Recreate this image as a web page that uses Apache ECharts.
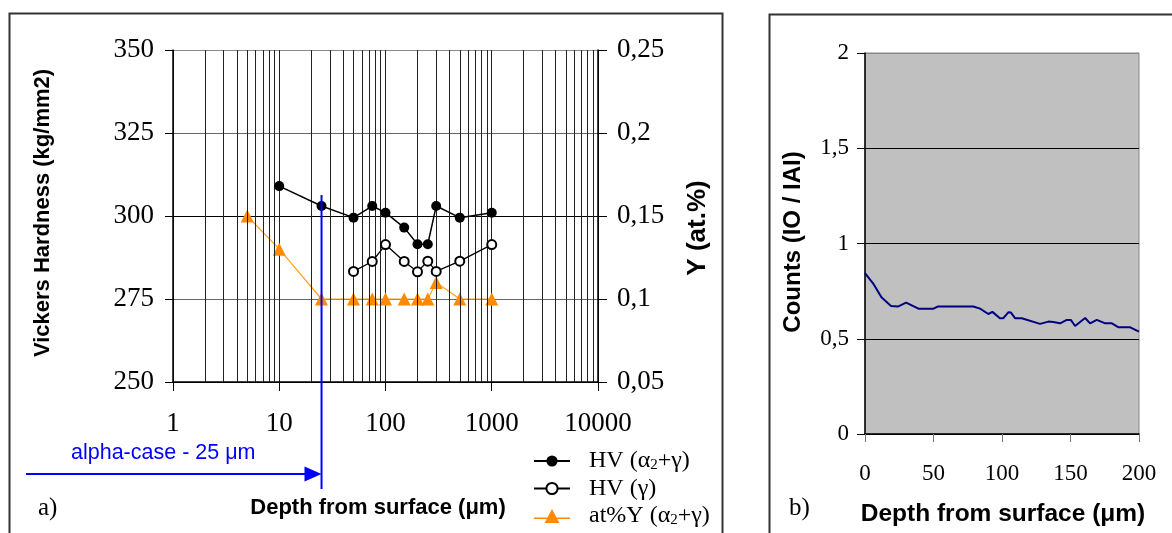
<!DOCTYPE html>
<html><head><meta charset="utf-8">
<script src="https://cdn.jsdelivr.net/npm/echarts@6/dist/echarts.min.js"></script>
<style>html,body{margin:0;padding:0;background:#fff}#c{width:1172px;height:533px}</style>
</head><body><div id="c"></div>
<script>
// ---- Chart a) data ----
const depthHVag = [10, 25, 50, 75, 100, 150, 200, 250, 300, 500, 1000];
const hvAlphaGamma = [309, 303, 299.5, 303, 301, 296.5, 291.5, 291.5, 303, 299.5, 301];
const depthHVg = [50, 75, 100, 150, 200, 250, 300, 500, 1000];
const hvGamma = [283.3, 286.3, 291.4, 286.3, 283.2, 286.4, 283.3, 286.4, 291.4];
const depthY = [5, 10, 25, 50, 75, 100, 150, 200, 250, 300, 500, 1000];
const atY = [0.15, 0.13, 0.1, 0.1, 0.1, 0.1, 0.1, 0.1, 0.1, 0.11, 0.1, 0.1];
const logMinorGrid = [2,3,4,5,6,7,8,9,20,30,40,50,60,70,80,90,200,300,400,500,600,700,800,900,2000,3000,4000,5000,6000,7000,8000,9000];
const alphaCaseDepth = 25;
const seriesNames = ['HV (α2+γ)', 'HV (γ)', 'at%Y (α2+γ)'];
// ---- Chart b) data ----
const depthB = [0,6,12,19,24,30,39,50,53,79,84,90,93,98.5,101,104.6,106.4,109.5,114.4,127.8,133.9,137.5,142.4,147.3,150.2,153.4,157,160.7,164.3,169.2,175.3,180.2,185.1,193.6,200];
const countsB = [0.844,0.79,0.718,0.672,0.669,0.69,0.658,0.658,0.669,0.669,0.658,0.63,0.641,0.608,0.608,0.639,0.638,0.608,0.608,0.578,0.59,0.588,0.581,0.599,0.599,0.567,0.588,0.609,0.581,0.599,0.581,0.581,0.56,0.56,0.537];

const serif = 'Liberation Serif';
const sans = 'Liberation Sans';
const zip = (a, b) => a.map((v, i) => [v, b[i]]);
const comma = v => String(+(+v).toFixed(2)).replace('.', ',');

const chart = echarts.init(document.getElementById('c'), null, {renderer: 'canvas'});

const legendRich = {
  t: {fontFamily: serif, fontSize: 24, color: '#000', lineHeight: 24, verticalAlign: 'middle'},
  s: {fontFamily: serif, fontSize: 15, color: '#000', lineHeight: 24, verticalAlign: 'bottom'}
};
function legendFmt(name) {
  if (name === seriesNames[0]) return '{t|HV (α}{s|2}{t|+γ)}';
  if (name === seriesNames[1]) return '{t|HV (γ)}';
  return '{t|at%Y (α}{s|2}{t|+γ)}';
}
// legend icon for the triangle series: line + large triangle (36 x 14 box)
const triLegendIcon = 'path://M0,8.6L36,8.6L36,10L0,10Z M10.5,14L18,0L25.5,14Z';

const option = {
  animation: false,
  backgroundColor: '#fff',
  grid: [
    {left: 173, top: 50, width: 425, height: 332, show: false},
    {left: 865, top: 53, width: 274, height: 381, show: true, backgroundColor: '#c0c0c0', borderColor: '#888', borderWidth: 1}
  ],
  xAxis: [
    {type: 'log', logBase: 10, min: 1, max: 10000, gridIndex: 0,
     axisLine: {lineStyle: {color: '#000', width: 1.5}},
     axisTick: {length: 9, lineStyle: {color: '#000'}},
     axisLabel: {fontFamily: serif, fontSize: 27, color: '#000', margin: 28, formatter: v => String(Math.round(v))},
     splitLine: {show: true, lineStyle: {color: '#222', width: 1}},
     minorTick: {show: false}},
    {type: 'value', min: 0, max: 200, interval: 50, gridIndex: 1,
     axisLine: {onZero: false, lineStyle: {color: '#000', width: 1.5}},
     axisTick: {length: 8, lineStyle: {color: '#777'}},
     axisLabel: {fontFamily: serif, fontSize: 23, color: '#000', margin: 28},
     splitLine: {show: false}}
  ],
  yAxis: [
    {type: 'value', min: 250, max: 350, interval: 25, gridIndex: 0,
     axisLine: {show: true, lineStyle: {color: '#000', width: 1.5}},
     axisTick: {show: true, length: 8, lineStyle: {color: '#000'}},
     axisLabel: {fontFamily: serif, fontSize: 27, color: '#000', margin: 19},
     splitLine: {show: true, lineStyle: {color: ['#000', '#666', '#000', '#666', '#888'], width: 1}}},
    {type: 'value', min: 0.05, max: 0.25, interval: 0.05, gridIndex: 0, position: 'right',
     axisLine: {show: true, lineStyle: {color: '#000', width: 1.5}},
     axisTick: {show: true, length: 9, lineStyle: {color: '#000'}},
     axisLabel: {fontFamily: serif, fontSize: 27, color: '#000', margin: 19, formatter: comma},
     splitLine: {show: false}},
    {type: 'value', min: 0, max: 2, interval: 0.5, gridIndex: 1,
     axisLine: {show: true, lineStyle: {color: '#000', width: 1.5}},
     axisTick: {show: true, length: 8, lineStyle: {color: '#000'}},
     axisLabel: {fontFamily: serif, fontSize: 23, color: '#000', margin: 16, formatter: comma},
     splitLine: {show: true, lineStyle: {color: ['#000', '#000', '#000', '#000', '#888'], width: 1}}}
  ],
  legend: {
    orient: 'vertical', left: 533, top: 449, width: 190, height: 110, padding: 0,
    itemWidth: 36, itemHeight: 14, itemGap: 3.5,
    data: [{name: seriesNames[0]}, {name: seriesNames[1]}, {name: seriesNames[2], icon: triLegendIcon}],
    formatter: legendFmt,
    textStyle: {rich: legendRich, padding: [0, 0, 0, 14]},
    selectedMode: false
  },
  series: [
    {name: 'grid', type: 'line', xAxisIndex: 0, yAxisIndex: 0, data: [[1, 250]], showSymbol: false, silent: true,
     lineStyle: {opacity: 0}, z: 1,
     markLine: {silent: true, symbol: ['none', 'none'], label: {show: false},
       lineStyle: {color: '#222', width: 1, type: 'solid'},
       data: logMinorGrid.map(v => ({xAxis: v}))}},
    {name: seriesNames[0], type: 'line', xAxisIndex: 0, yAxisIndex: 0, data: zip(depthHVag, hvAlphaGamma),
     symbol: 'circle', symbolSize: 10, itemStyle: {color: '#000'}, lineStyle: {color: '#000', width: 1.5}, z: 5},
    {name: seriesNames[1], type: 'line', xAxisIndex: 0, yAxisIndex: 0, data: zip(depthHVg, hvGamma),
     symbol: 'emptyCircle', symbolSize: 9, itemStyle: {color: '#000', borderWidth: 1.3}, lineStyle: {color: '#000', width: 1.3}, z: 5},
    {name: seriesNames[2], type: 'line', xAxisIndex: 0, yAxisIndex: 1, data: zip(depthY, atY),
     symbol: 'triangle', symbolSize: 13, itemStyle: {color: '#ff8a00'}, lineStyle: {color: '#ffa31a', width: 1.2}, z: 4},
    {name: 'counts', type: 'line', xAxisIndex: 1, yAxisIndex: 2, data: zip(depthB, countsB),
     showSymbol: false, lineStyle: {color: '#000080', width: 2}, clip: false, z: 5}
  ]
};
chart.setOption(option);

const xa = chart.convertToPixel({xAxisIndex: 0}, alphaCaseDepth);
chart.setOption({
  graphic: [
    {type: 'rect', shape: {x: 9.5, y: 13.5, width: 713, height: 560}, style: {fill: 'none', stroke: '#333', lineWidth: 2}, silent: true},
    {type: 'rect', shape: {x: 769.5, y: 14.5, width: 440, height: 560}, style: {fill: 'none', stroke: '#333', lineWidth: 2}, silent: true},
    {type: 'line', shape: {x1: xa, y1: 195, x2: xa, y2: 489}, style: {stroke: '#0000ff', lineWidth: 2}, z: 10},
    {type: 'line', shape: {x1: 26, y1: 474, x2: xa - 14, y2: 474}, style: {stroke: '#0000ff', lineWidth: 2}, z: 10},
    {type: 'polygon', shape: {points: [[xa - 17, 466.5], [xa, 474], [xa - 17, 481.5]]}, style: {fill: '#0000ff'}, z: 10},
    {type: 'text', x: 71, y: 453, style: {text: 'alpha-case - 25 μm', fontFamily: sans, fontSize: 21.5, fill: '#0000ff', verticalAlign: 'middle'}},
    {type: 'text', x: 38, y: 508, style: {text: 'a)', fontFamily: serif, fontSize: 25, fill: '#000', verticalAlign: 'middle'}},
    {type: 'text', x: 789, y: 508, style: {text: 'b)', fontFamily: serif, fontSize: 25, fill: '#000', verticalAlign: 'middle'}},
    {type: 'text', x: 378, y: 508, style: {text: 'Depth from surface (μm)', fontFamily: sans, fontWeight: 'bold', fontSize: 22, fill: '#000', align: 'center', verticalAlign: 'middle'}},
    {type: 'text', x: 1003, y: 514, style: {text: 'Depth from surface (μm)', fontFamily: sans, fontWeight: 'bold', fontSize: 24.5, fill: '#000', align: 'center', verticalAlign: 'middle'}},
    {type: 'text', x: 43, y: 213, rotation: Math.PI / 2, style: {text: 'Vickers Hardness (kg/mm2)', fontFamily: sans, fontWeight: 'bold', fontSize: 22, fill: '#000', align: 'center', verticalAlign: 'middle'}},
    {type: 'text', x: 698, y: 228, rotation: Math.PI / 2, style: {text: 'Y (at.%)', fontFamily: sans, fontWeight: 'bold', fontSize: 26, fill: '#000', align: 'center', verticalAlign: 'middle'}},
    {type: 'text', x: 793, y: 242, rotation: Math.PI / 2, style: {text: 'Counts (IO / IAI)', fontFamily: sans, fontWeight: 'bold', fontSize: 24, fill: '#000', align: 'center', verticalAlign: 'middle'}}
  ]
});
</script></body></html>
